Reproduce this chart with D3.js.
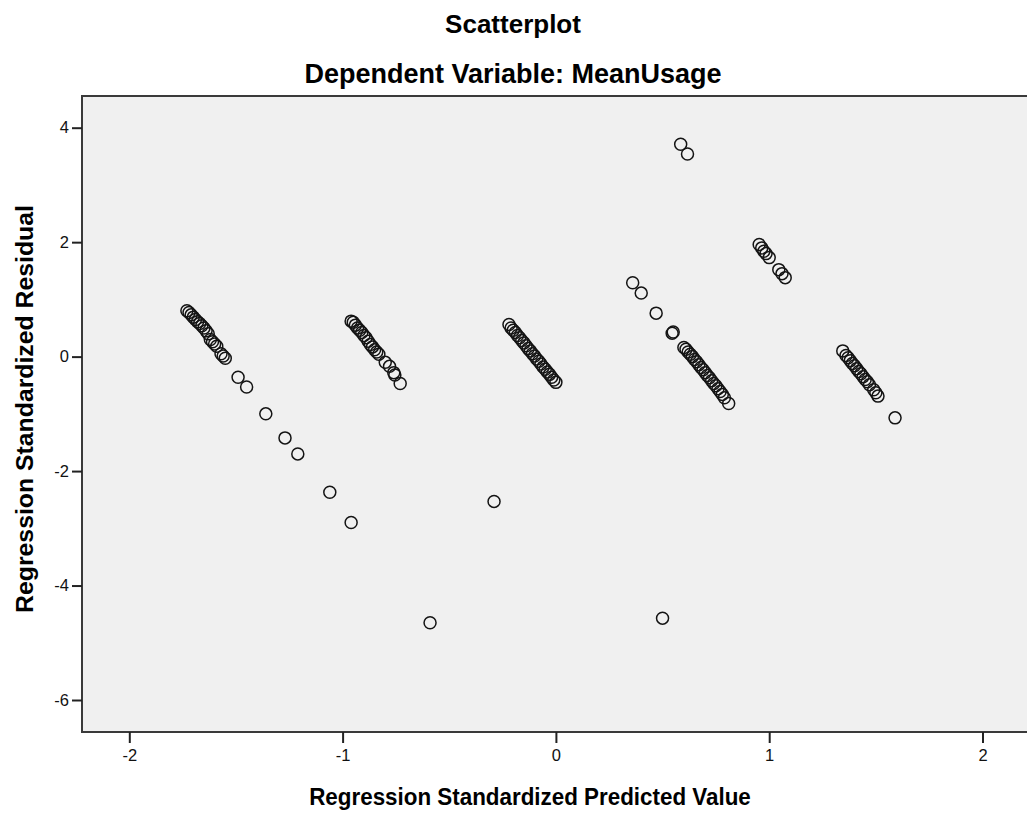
<!DOCTYPE html>
<html>
<head>
<meta charset="utf-8">
<script src="https://cdn.jsdelivr.net/npm/d3@7"></script>
<style>
  body { margin: 0; background: #fff; }
  svg { display: block; font-family: "Liberation Sans", Arial, sans-serif; }
</style>
</head>
<body>
<svg width="1027" height="816"></svg>
<script>
// values
var predicted = [
  -1.73, -1.72, -1.71, -1.70, -1.69, -1.68, -1.67, -1.66, -1.65, -1.64, -1.63, -1.62, -1.61, -1.60, -1.59, -1.57, -1.56, -1.55,
  -1.49, -1.45, -1.36, -1.27, -1.21, -1.06, -0.96,
  -0.96, -0.95, -0.94, -0.93, -0.92, -0.91, -0.90, -0.89, -0.88, -0.87, -0.86, -0.85, -0.84, -0.83, -0.80, -0.78, -0.76, -0.755, -0.73,
  -0.22, -0.21, -0.20, -0.19, -0.18, -0.17, -0.16, -0.15, -0.14, -0.13, -0.12, -0.11, -0.10, -0.09, -0.08, -0.07, -0.06, -0.05, -0.04, -0.03, -0.02, -0.01, 0.00,
  -0.59, -0.29, 0.50,
  0.36, 0.40, 0.47, 0.545, 0.55,
  0.60, 0.61, 0.62, 0.63, 0.64, 0.65, 0.66, 0.67, 0.68, 0.69, 0.70, 0.71, 0.72, 0.73, 0.74, 0.75, 0.76, 0.77, 0.78, 0.79, 0.81,
  0.585, 0.617,
  0.953, 0.965, 0.975, 0.985, 1.00, 1.045, 1.06, 1.075,
  1.345, 1.36, 1.37, 1.38, 1.39, 1.40, 1.41, 1.42, 1.43, 1.44, 1.45, 1.46, 1.47, 1.49, 1.50, 1.51, 1.59
]
var residual = [
  0.80, 0.77, 0.73, 0.69, 0.65, 0.61, 0.58, 0.54, 0.50, 0.45, 0.40, 0.30, 0.26, 0.22, 0.18, 0.05, 0.01, -0.03,
  -0.36, -0.53, -1.00, -1.42, -1.70, -2.37, -2.90,
  0.62, 0.60, 0.55, 0.50, 0.46, 0.42, 0.37, 0.33, 0.27, 0.21, 0.17, 0.12, 0.08, 0.04, -0.10, -0.17, -0.28, -0.32, -0.47,
  0.56, 0.50, 0.46, 0.42, 0.37, 0.33, 0.28, 0.24, 0.19, 0.14, 0.10, 0.05, 0.01, -0.04, -0.08, -0.13, -0.18, -0.22, -0.27, -0.31, -0.36, -0.41, -0.45,
  -4.65, -2.53, -4.57,
  1.29, 1.11, 0.76, 0.41, 0.43,
  0.16, 0.13, 0.08, 0.04, 0.00, -0.05, -0.09, -0.14, -0.19, -0.23, -0.28, -0.33, -0.37, -0.42, -0.47, -0.51, -0.56, -0.61, -0.66, -0.72, -0.82,
  3.71, 3.54,
  1.96, 1.90, 1.84, 1.80, 1.73, 1.52, 1.45, 1.38,
  0.10, 0.02, -0.02, -0.07, -0.12, -0.16, -0.21, -0.26, -0.30, -0.35, -0.40, -0.44, -0.49, -0.58, -0.63, -0.69, -1.07
]
var xTicks = [-2, -1, 0, 1, 2]
var yTicks = [4, 2, 0, -2, -4, -6]
var title = "Scatterplot"
var subtitle = "Dependent Variable: MeanUsage"
var xTitle = "Regression Standardized Predicted Value"
var yTitle = "Regression Standardized Residual"

var svg = d3.select("svg")
var plot = { left: 82, top: 96, right: 1040, bottom: 732 }

var x = d3.scaleLinear().domain([-2, 2]).range([129.3, 982.5])
var y = d3.scaleLinear().domain([4, -6]).range([127.7, 700.0])

// SPSS prints a plain hyphen, not the unicode minus
function plain(d) { return String(d) }

svg.append("rect")
    .attr("x", plot.left).attr("y", plot.top)
    .attr("width", plot.right - plot.left).attr("height", plot.bottom - plot.top)
    .attr("fill", "#f0f0f0")
    .attr("stroke", "#3a3a3a")
    .attr("stroke-width", 2)

var xAxis = svg.append("g")
    .attr("transform", "translate(0," + plot.bottom + ")")
    .call(d3.axisBottom(x).tickValues(xTicks).tickFormat(plain).tickSize(11).tickPadding(6))
xAxis.select(".domain").remove()

var yAxis = svg.append("g")
    .attr("transform", "translate(" + plot.left + ",0)")
    .call(d3.axisLeft(y).tickValues(yTicks).tickFormat(plain).tickSize(10).tickPadding(3))
yAxis.select(".domain").remove()

svg.selectAll(".tick line").attr("stroke", "#222").attr("stroke-width", 2)
svg.selectAll(".tick text")
    .attr("fill", "#111")
    .style("font-size", "16.5px")
    .style("font-family", "'Liberation Sans', Arial, sans-serif")

// residual points
var points = predicted.map(function(d, i) { return [d, residual[i]] })
svg.append("g").selectAll("circle")
    .data(points)
  .enter().append("circle")
    .attr("cx", function(d) { return x(d[0]) })
    .attr("cy", function(d) { return y(d[1]) })
    .attr("r", 6)
    .attr("fill", "none")
    .attr("stroke", "#141414")
    .attr("stroke-width", 1.5)

// titles
svg.append("text")
    .attr("x", 513).attr("y", 33)
    .attr("text-anchor", "middle")
    .style("font-weight", "bold").style("font-size", "26px")
    .text(title)

svg.append("text")
    .attr("x", 513).attr("y", 83)
    .attr("text-anchor", "middle")
    .style("font-weight", "bold").style("font-size", "27px")
    .text(subtitle)

svg.append("text")
    .attr("transform", "translate(530,805) scale(1,1.1)")
    .attr("text-anchor", "middle")
    .style("font-weight", "bold").style("font-size", "22.4px")
    .text(xTitle)

svg.append("text")
    .attr("transform", "translate(33,409) rotate(-90)")
    .attr("text-anchor", "middle")
    .style("font-weight", "bold").style("font-size", "24.8px")
    .text(yTitle)
</script>
</body>
</html>
